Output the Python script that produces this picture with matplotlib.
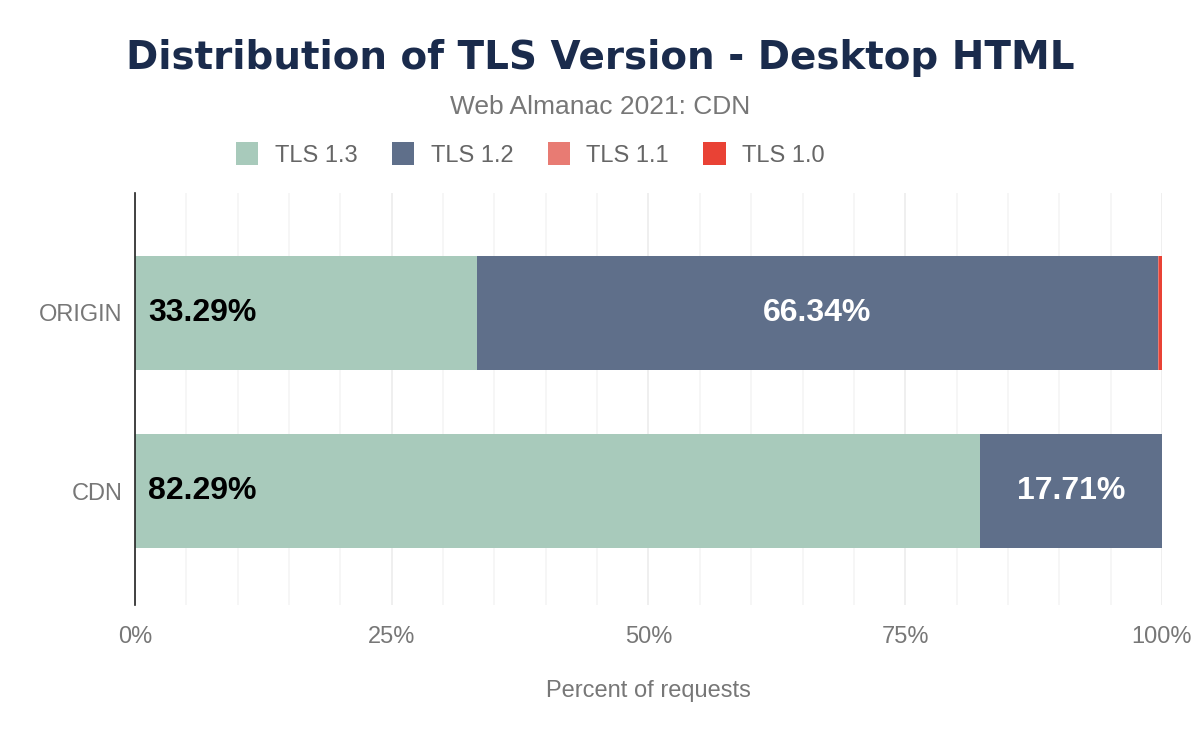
import numpy as np
import matplotlib
matplotlib.use("Agg")
import matplotlib.pyplot as plt
from matplotlib.patches import Patch

# data
categories = ["CDN", "ORIGIN"]
versions = ["TLS 1.3", "TLS 1.2", "TLS 1.1", "TLS 1.0"]
tls13 = [82.29, 33.29]
tls12 = [17.71, 66.34]
tls11 = [0.0, 0.05]
tls10 = [0.0, 0.32]
colors = ["#a8cabb", "#5f6f8a", "#e87b73", "#e94235"]
xticks = [0, 25, 50, 75, 100]

plt.rcParams['font.family'] = ['Liberation Sans', 'DejaVu Sans']

fig = plt.figure(figsize=(12, 7.42), dpi=100)
ax = fig.add_axes([0.1125, 0.1846, 0.8558, 0.5554])

y = np.arange(len(categories))
series = [tls13, tls12, tls11, tls10]
left = np.zeros(len(categories))
for vals, col in zip(series, colors):
    ax.barh(y, vals, left=left, height=0.64, color=col, zorder=3)
    left = left + np.array(vals)

# value labels
for i in range(len(categories)):
    ax.text(1.3, y[i], "%.2f%%" % tls13[i], ha='left', va='center',
            fontsize=23, fontweight='bold', color='black', zorder=4)
    ax.text(tls13[i] + tls12[i] / 2, y[i], "%.2f%%" % tls12[i], ha='center', va='center',
            fontsize=23, fontweight='bold', color='white', zorder=4)

ax.set_xlim(0, 100)
ax.set_ylim(-0.64, 1.674)
ax.set_yticks(y)
ax.set_yticklabels(categories)
ax.set_xticks(xticks)
ax.set_xticklabels(["%d%%" % t for t in xticks])
ax.set_xticks(np.arange(0, 101, 5), minor=True)
ax.grid(axis='x', which='major', color='#ececec', linewidth=1.2, zorder=0)
ax.grid(axis='x', which='minor', color='#f5f5f5', linewidth=1.2, zorder=0)
ax.tick_params(axis='both', which='both', length=0, labelsize=17, labelcolor='#777777')
ax.tick_params(axis='x', pad=15)
ax.tick_params(axis='y', pad=9)
for s in ['top', 'right', 'bottom']:
    ax.spines[s].set_visible(False)
ax.spines['left'].set_color('#222222')
ax.spines['left'].set_linewidth(1.2)
ax.spines['left'].set_zorder(5)
ax.set_xlabel("Percent of requests", fontsize=17, color='#777777', labelpad=23)

fig.text(0.5, 0.922, "Distribution of TLS Version - Desktop HTML", ha='center', va='center',
         fontsize=28, fontweight='heavy', color='#1a2b4c', family=['DejaVu Sans'])
fig.text(0.5, 0.856, "Web Almanac 2021: CDN", ha='center', va='center',
         fontsize=19, color='#777777')

handles = [Patch(facecolor=c, edgecolor='none') for c in colors]
fig.legend(handles, versions, loc='center', bbox_to_anchor=(0.442, 0.792), ncol=4,
           frameon=False, fontsize=17, labelcolor='#666666', handlelength=0.95,
           handleheight=1.1, columnspacing=1.45, handletextpad=0.7)

fig.savefig("out.png", dpi=100)
